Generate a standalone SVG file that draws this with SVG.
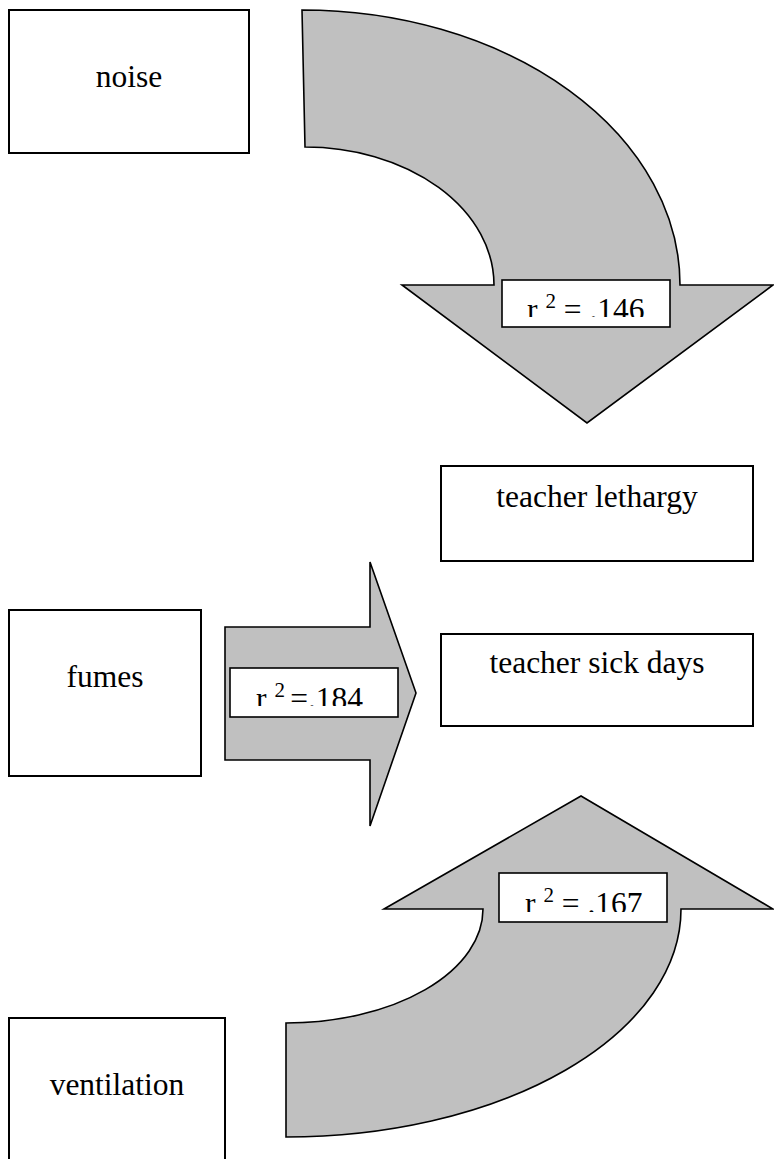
<svg xmlns="http://www.w3.org/2000/svg" width="774" height="1159" viewBox="0 0 774 1159">
<style>
.box{fill:#fff;stroke:#000;stroke-width:2}
.arrow{fill:#c0c0c0;stroke:#000;stroke-width:1.6;stroke-linejoin:miter}
.lbl{fill:#fff;stroke:#000;stroke-width:1.6}
text{font-family:"Liberation Serif","Times New Roman",serif;font-size:31.5px;fill:#000}
.c{text-anchor:middle}
.sup{font-size:21px}
</style>
<defs>
<clipPath id="c1"><rect x="503" y="281" width="166" height="36"/></clipPath>
<clipPath id="c2"><rect x="231" y="669" width="166" height="37"/></clipPath>
<clipPath id="c3"><rect x="500" y="874" width="167" height="38"/></clipPath>
</defs>
<g id="connectors">
<g id="arrow-noise">
<path class="arrow" d="M302,10 A378,275 0 0 1 680,285 L773,285 L587,423 L402,285 L494,285 A189,138 0 0 0 305,147 Z"/>
<rect class="lbl" x="502" y="280" width="168" height="47"/>
<text x="527" y="320" clip-path="url(#c1)">r <tspan class="sup" dy="-12">2</tspan><tspan dy="12"> = .146</tspan></text>
</g>
<g id="arrow-fumes">
<path class="arrow" d="M225,627 L370,627 L370,562 L416,693 L370,826 L370,760 L225,760 Z"/>
<rect class="lbl" x="230" y="668" width="168" height="49"/>
<text x="256" y="709" clip-path="url(#c2)">r <tspan class="sup" dy="-12">2 </tspan><tspan dy="12">=.184</tspan></text>
</g>
<g id="arrow-ventilation">
<path class="arrow" d="M286,1137 A395,228 0 0 0 681,909 L773,909 L581,796 L384,909 L483,909 A197,114 0 0 1 286,1023 Z"/>
<rect class="lbl" x="499" y="873" width="168" height="49"/>
<text x="525" y="914" clip-path="url(#c3)">r <tspan class="sup" dy="-12">2</tspan><tspan dy="12"> = .167</tspan></text>
</g>
</g>
<g id="noise">
<rect class="box" x="9" y="10" width="240" height="143"/>
<text class="c" x="129" y="87">noise</text>
</g>
<g id="teacher-lethargy">
<rect class="box" x="441" y="466" width="312" height="95"/>
<text class="c" x="597" y="507">teacher lethargy</text>
</g>
<g id="fumes">
<rect class="box" x="9" y="610" width="192" height="166"/>
<text class="c" x="105" y="687">fumes</text>
</g>
<g id="teacher-sick-days">
<rect class="box" x="441" y="634" width="312" height="92"/>
<text class="c" x="597" y="673">teacher sick days</text>
</g>
<g id="ventilation">
<rect class="box" x="9" y="1018" width="216" height="150"/>
<text class="c" x="117" y="1095">ventilation</text>
</g>
</svg>
